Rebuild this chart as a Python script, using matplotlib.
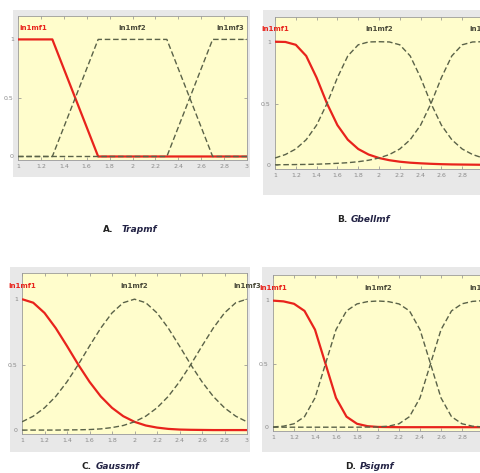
"""
Four MATLAB-style membership function plots (trapmf, gbellmf, gaussmf, psigmf)
"""
import matplotlib.pyplot as plt
from matplotlib.patches import Rectangle

W, H = 481, 473

# ----- data -----
x_grid = [1.0, 1.1, 1.2, 1.3, 1.4, 1.5, 1.6, 1.7, 1.8, 1.9, 2.0,
          2.1, 2.2, 2.3, 2.4, 2.5, 2.6, 2.7, 2.8, 2.9, 3.0]

# A. trapmf (corner points)
trap_x1 = [1.0, 1.3, 1.7, 3.0]
trap_y1 = [1, 1, 0, 0]
trap_x2 = [1.0, 1.3, 1.7, 2.3, 2.7, 3.0]
trap_y2 = [0, 0, 1, 1, 0, 0]
trap_x3 = [1.0, 2.3, 2.7, 3.0]
trap_y3 = [0, 0, 1, 1]

# B. gbellmf
gbell_1 = [1.0, 0.998, 0.975, 0.885, 0.709, 0.5, 0.325, 0.207, 0.132, 0.087, 0.059,
           0.041, 0.029, 0.021, 0.016, 0.012, 0.009, 0.007, 0.006, 0.005, 0.004]
gbell_2 = [0.059, 0.087, 0.132, 0.207, 0.325, 0.5, 0.709, 0.885, 0.975, 0.998, 1.0,
           0.998, 0.975, 0.885, 0.709, 0.5, 0.325, 0.207, 0.132, 0.087, 0.059]
gbell_3 = [0.004, 0.005, 0.006, 0.007, 0.009, 0.012, 0.016, 0.021, 0.029, 0.041, 0.059,
           0.087, 0.132, 0.207, 0.325, 0.5, 0.709, 0.885, 0.975, 0.998, 1.0]

# C. gaussmf
gauss_1 = [1.0, 0.973, 0.895, 0.779, 0.642, 0.5, 0.369, 0.257, 0.170, 0.106, 0.063,
           0.035, 0.019, 0.009, 0.004, 0.002, 0.001, 0.0, 0.0, 0.0, 0.0]
gauss_2 = [0.063, 0.106, 0.170, 0.257, 0.369, 0.5, 0.642, 0.779, 0.895, 0.973, 1.0,
           0.973, 0.895, 0.779, 0.642, 0.5, 0.369, 0.257, 0.170, 0.106, 0.063]
gauss_3 = [0.0, 0.0, 0.0, 0.0, 0.001, 0.002, 0.004, 0.009, 0.019, 0.035, 0.063,
           0.106, 0.170, 0.257, 0.369, 0.5, 0.642, 0.779, 0.895, 0.973, 1.0]

# D. psigmf
psig_1 = [0.998, 0.992, 0.973, 0.917, 0.769, 0.5, 0.231, 0.083, 0.027, 0.008, 0.002,
          0.001, 0.0, 0.0, 0.0, 0.0, 0.0, 0.0, 0.0, 0.0, 0.0]
psig_2 = [0.002, 0.008, 0.027, 0.083, 0.231, 0.5, 0.769, 0.917, 0.972, 0.99, 0.995,
          0.99, 0.972, 0.917, 0.769, 0.5, 0.231, 0.083, 0.027, 0.008, 0.002]
psig_3 = [0.0, 0.0, 0.0, 0.0, 0.0, 0.0, 0.0, 0.0, 0.0, 0.001, 0.002,
          0.008, 0.027, 0.083, 0.231, 0.5, 0.769, 0.917, 0.973, 0.992, 0.998]

mf_names = ['in1mf1', 'in1mf2', 'in1mf3']
xtick_vals = [1, 1.2, 1.4, 1.6, 1.8, 2, 2.2, 2.4, 2.6, 2.8, 3]
xtick_labels = ['1', '1.2', '1.4', '1.6', '1.8', '2', '2.2', '2.4', '2.6', '2.8', '3']
ytick_vals = [0, 0.5, 1]
ytick_labels = ['0', '0.5', '1']

# colours
c_bg = '#FFFDCC'
c_frame = '#E8E8E8'
c_red = '#E8231C'
c_gray = '#5A6248'

fig = plt.figure(figsize=(W / 100, H / 100), dpi=100)
fig.patch.set_facecolor('white')


def frame(l, t, r, b):
    """light gray panel behind each axes (pixel coords, top origin)"""
    fig.patches.append(Rectangle((l / W, 1 - b / H), (r - l) / W, (b - t) / H,
                                 transform=fig.transFigure, facecolor=c_frame,
                                 edgecolor='none', zorder=-5))


def make_axes(l, t, r, b, cut=False):
    ax = fig.add_axes([l / W, 1 - b / H, (r - l) / W, (b - t) / H], zorder=2)
    ax.set_facecolor(c_bg)
    ax.set_xlim(1, 3)
    ax.set_ylim(-0.03, 1.2)
    ax.set_xticks(xtick_vals)
    # panels cut by the right border of the picture lose their last label
    ax.set_xticklabels(xtick_labels[:-1] + [''] if cut else xtick_labels)
    ax.set_yticks(ytick_vals)
    ax.set_yticklabels(ytick_labels)
    ax.tick_params(direction='in', length=2, width=0.5, colors='#8a8a8a',
                   labelsize=4.5, pad=3, top=True, right=True)
    for s in ax.spines.values():
        s.set_color('#9a9a9a')
        s.set_linewidth(0.6)
    return ax


def draw_mfs(ax, xs, ys, centers):
    x1, x2, x3 = xs
    y1, y2, y3 = ys
    ax.plot(x1, y1, color=c_red, lw=1.6, solid_capstyle='butt', zorder=3)
    ax.plot(x2, y2, color=c_gray, lw=1.0, ls=(0, (4, 2)), zorder=4)
    ax.plot(x3, y3, color=c_gray, lw=1.0, ls=(0, (4, 2)), zorder=4)
    for i, (name, cx) in enumerate(zip(mf_names, centers)):
        ax.text(cx, 1.1, name, ha='center', va='center', fontsize=5,
                fontweight='bold', color=c_red if i == 0 else '#4a4a3a',
                clip_on=False)


# ----- A. trapmf -----
frame(13, 10, 250, 177)
axA = make_axes(18, 16, 247, 160)
draw_mfs(axA, (trap_x1, trap_x2, trap_x3), (trap_y1, trap_y2, trap_y3),
         (1.13, 2.0, 2.85))

# ----- B. gbellmf -----
frame(263, 10, 485, 195)
axB = make_axes(275, 17, 483, 169, cut=True)
draw_mfs(axB, (x_grid, x_grid, x_grid), (gbell_1, gbell_2, gbell_3), (1.0, 2.0, 3.0))

# ----- C. gaussmf -----
frame(10, 267, 250, 452)
axC = make_axes(22, 273, 247, 434)
draw_mfs(axC, (x_grid, x_grid, x_grid), (gauss_1, gauss_2, gauss_3), (1.0, 2.0, 3.0))

# ----- D. psigmf -----
frame(262, 267, 485, 452)
axD = make_axes(273, 275, 483, 431, cut=True)
draw_mfs(axD, (x_grid, x_grid, x_grid), (psig_1, psig_2, psig_3), (1.0, 2.0, 3.0))

# ----- captions -----
caps = [(113, 230, 'A.', 122, 'Trapmf'),
        (347, 220, 'B.', 351, 'Gbellmf'),
        (92, 466, 'C.', 96, 'Gaussmf'),
        (356, 466, 'D.', 360, 'Psigmf')]
for lx, ly, letter, nx, name in caps:
    fig.text(lx / W, 1 - ly / H, letter, ha='right', va='center', fontsize=6.5,
             fontweight='bold', color='#222222', family='DejaVu Sans')
    fig.text(nx / W, 1 - ly / H, name, ha='left', va='center', fontsize=6.5,
             fontweight='bold', style='italic', color='#222244', family='DejaVu Sans')

fig.savefig('out.png', dpi=100, facecolor='white')
